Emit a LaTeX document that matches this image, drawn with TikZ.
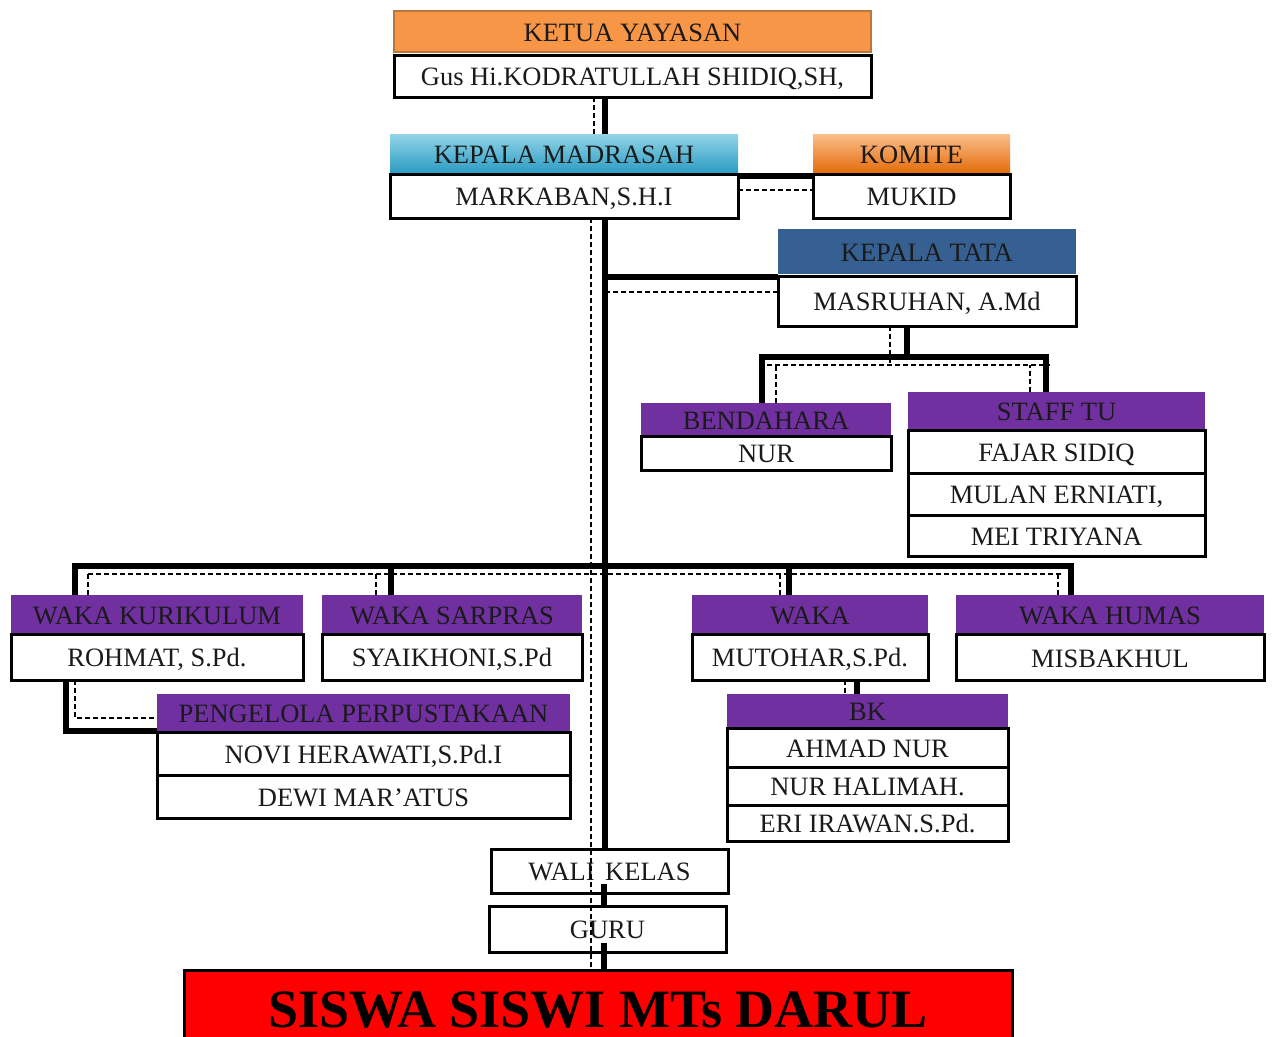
\documentclass[tikz,border=0pt]{standalone}
\usepackage{fontspec}
\setmainfont{Liberation Serif}
\usetikzlibrary{calc}
\definecolor{orgA}{HTML}{F79646}
\definecolor{orgB}{HTML}{B9763F}
\definecolor{cyanT}{HTML}{92D4E8}
\definecolor{cyanB}{HTML}{2C9CC2}
\definecolor{komT}{HTML}{FBBE8C}
\definecolor{komB}{HTML}{E46C0A}
\definecolor{tataC}{HTML}{376092}
\definecolor{purp}{HTML}{7030A0}
\definecolor{redC}{HTML}{FF0000}
\definecolor{txt}{HTML}{1A1A1A}
\pgfdeclarelayer{bg}
\pgfsetlayers{bg,main}
\tikzset{
  box/.style={rectangle, inner sep=0pt, outer sep=0pt, font=\fontsize{26.5}{30}\selectfont, text=txt, text height=20pt, text depth=0.5pt},
  hdr/.style={box, draw=none},
  phdr/.style={hdr, fill=purp},
  nm/.style={box, draw=black, line width=3pt, fill=white},
  thk/.style={line width=6pt, draw=black},
  dsh/.style={line width=1.2pt, draw=black, dash pattern=on 5pt off 3pt},
}
\begin{document}
\begin{tikzpicture}[x=1pt,y=-1pt]
\useasboundingbox (0,0) rectangle (1273,1036);
\clip (0,0) rectangle (1273,1036);

% ---- boxes ----
\node[hdr, fill=orgA, draw=orgB, line width=2pt, minimum width=477pt, minimum height=41pt] (ketuaH) at (632.5,31.5) {KETUA YAYASAN};
\node[nm, minimum width=477pt, minimum height=42pt] (ketuaN) at (632.5,76) {Gus Hi.KODRATULLAH SHIDIQ,SH,};

\node[hdr, top color=cyanT, bottom color=cyanB, minimum width=348pt, minimum height=39pt] (madH) at (564,153.5) {KEPALA MADRASAH};
\node[nm, minimum width=348pt, minimum height=44pt] (madN) at (564,196) {MARKABAN,S.H.I};

\node[hdr, top color=komT, bottom color=komB, minimum width=197pt, minimum height=39pt] (komH) at (911.5,153.5) {KOMITE};
\node[nm, minimum width=197pt, minimum height=44pt] (komN) at (911.5,196) {MUKID};

\node[hdr, fill=tataC, minimum width=298pt, minimum height=45pt] (tataH) at (927,251.5) {KEPALA TATA};
\node[nm, minimum width=298pt, minimum height=50pt] (tataN) at (927,301) {MASRUHAN, A.Md};

\node[phdr, minimum width=250pt, minimum height=33pt] (bendH) at (766,419.5) {BENDAHARA};
\node[nm, minimum width=250pt, minimum height=34pt] (bendN) at (766,453) {NUR};

\node[phdr, minimum width=297pt, minimum height=38pt] (staffH) at (1056.5,411) {STAFF TU};
\node[nm, minimum width=297pt, minimum height=43pt] (staffA) at (1056.5,451.5) {FAJAR SIDIQ};
\node[nm, minimum width=297pt, minimum height=42pt] (staffB) at (1056.5,494) {MULAN ERNIATI,};
\node[nm, minimum width=297pt, minimum height=41pt] (staffC) at (1056.5,535.5) {MEI TRIYANA};

\node[phdr, minimum width=292pt, minimum height=39pt] (wkH) at (157,614.5) {WAKA KURIKULUM};
\node[nm, minimum width=292pt, minimum height=46pt] (wkN) at (157,657) {ROHMAT, S.Pd.};

\node[phdr, minimum width=260pt, minimum height=39pt] (wsH) at (452,614.5) {WAKA SARPRAS};
\node[nm, minimum width=260pt, minimum height=46pt] (wsN) at (452,657) {SYAIKHONI,S.Pd};

\node[phdr, minimum width=236pt, minimum height=39pt] (wH) at (810,614.5) {WAKA};
\node[nm, minimum width=236pt, minimum height=46pt] (wN) at (810,657) {MUTOHAR,S.Pd.};

\node[phdr, minimum width=308pt, minimum height=39pt] (whH) at (1110,614.5) {WAKA HUMAS};
\node[nm, minimum width=308pt, minimum height=46pt] (whN) at (1110,657.5) {MISBAKHUL};

\node[phdr, minimum width=413pt, minimum height=38pt] (pgH) at (363.5,713) {PENGELOLA PERPUSTAKAAN};
\node[nm, minimum width=413pt, minimum height=43pt] (pgA) at (363.5,753.5) {NOVI HERAWATI,S.Pd.I};
\node[nm, minimum width=413pt, minimum height=43pt] (pgB) at (363.5,796.5) {DEWI MAR’ATUS};

\node[phdr, minimum width=281pt, minimum height=34pt] (bkH) at (867.5,711) {BK};
\node[nm, minimum width=281pt, minimum height=39pt] (bkA) at (867.5,747.5) {AHMAD NUR};
\node[nm, minimum width=281pt, minimum height=38pt] (bkB) at (867.5,786) {NUR HALIMAH.};
\node[nm, minimum width=281pt, minimum height=36pt] (bkC) at (867.5,823) {ERI IRAWAN.S.Pd.};

\node[nm, minimum width=237pt, minimum height=44pt] (wali) at (609.5,871) {WALI\hspace{0.15em} KELAS};
\node[nm, minimum width=237pt, minimum height=46pt] (guru) at (607.5,929) {GURU};

\node[nm, fill=redC, minimum width=828pt, minimum height=90pt] (siswa) at (598,1015) {};
\node[box, text=black, font=\fontsize{54}{60}\selectfont\bfseries, text height=38pt, text depth=0pt] (siswaT) at (598,1008) {SISWA SISWI MTs DARUL};

% ---- helper coordinates ----
\coordinate (sx) at (605,0);
\coordinate (dxa) at (594,0);
\coordinate (dxb) at (591,0);
\coordinate (ya) at (0,176);
\coordinate (yb) at (0,190);
\coordinate (yc) at (0,277);
\coordinate (yd) at (0,292);
\coordinate (tx) at (907,0);
\coordinate (ye) at (0,357);
\coordinate (bx) at (762,0);
\coordinate (stx) at (1046,0);
\coordinate (tdx) at (890,0);
\coordinate (yf) at (0,365);
\coordinate (bdl) at (767,0);
\coordinate (bdr) at (1050,0);
\coordinate (bdx) at (776,0);
\coordinate (sdx) at (1030,0);
\coordinate (yg) at (0,566);
\coordinate (yh) at (0,574);
\coordinate (k1) at (75,0);
\coordinate (k2) at (391,0);
\coordinate (k3) at (789,0);
\coordinate (k4) at (1071,0);
\coordinate (d1) at (88,0);
\coordinate (d2) at (376,0);
\coordinate (d3) at (780,0);
\coordinate (d4) at (1058,0);
\coordinate (d5) at (1061,0);
\coordinate (p1) at (66,0);
\coordinate (p2) at (75,0);
\coordinate (yi) at (0,731);
\coordinate (yj) at (0,718);
\coordinate (b1) at (857,0);
\coordinate (b2) at (845,0);
\coordinate (gx) at (604,0);

% ---- connectors ----
\begin{pgfonlayer}{bg}
\fill[white] (0,0) rectangle (1273,1036);
\draw[thk] (ketuaN.south -| sx) -- (madH.north -| sx);
\draw[dsh] (ketuaN.south -| dxa) -- (madH.north -| dxa);
\draw[thk] (madN.south -| sx) -- (wali.north -| sx);
\draw[thk] (madN.east |- ya) -- (komN.west |- ya);
\draw[dsh] (madN.east |- yb) -- (komN.west |- yb);
\draw[thk] (sx |- yc) -- (tataN.west |- yc);
\draw[dsh] (sx |- yd) -- (tataN.west |- yd);
\draw[thk] (tataN.south -| tx) -- (tx |- ye);
\draw[thk, line join=miter] (bendH.north -| bx) -- (bx |- ye) -- (stx |- ye) -- (staffH.north -| stx);
\draw[dsh] (tataN.south -| tdx) -- (tdx |- yf);
\draw[dsh] (bdl |- yf) -- (bdr |- yf);
\draw[dsh] (bendH.north -| bdx) -- (bdx |- yf);
\draw[dsh] (staffH.north -| sdx) -- (sdx |- yf);
\draw[thk, line join=miter] (wkH.north -| k1) -- (k1 |- yg) -- (k4 |- yg) -- (whH.north -| k4);
\draw[thk] (k2 |- yg) -- (wsH.north -| k2);
\draw[thk] (k3 |- yg) -- (wH.north -| k3);
\draw[dsh] (d1 |- yh) -- (d5 |- yh);
\draw[dsh] (d1 |- yh) -- (wkH.north -| d1);
\draw[dsh] (d2 |- yh) -- (wsH.north -| d2);
\draw[dsh] (d3 |- yh) -- (wH.north -| d3);
\draw[dsh] (d4 |- yh) -- (whH.north -| d4);
\draw[thk, line join=miter] (wkN.south -| p1) -- (p1 |- yi) -- (pgH.west |- yi);
\draw[dsh] (wkN.south -| p2) -- (p2 |- yj) -- (pgH.west |- yj);
\draw[thk] (wN.south -| b1) -- (bkH.north -| b1);
\draw[dsh] (wN.south -| b2) -- (bkH.north -| b2);
\draw[thk] (wali.south -| gx) -- (guru.north -| gx);
\draw[thk] (guru.south -| gx) -- (siswa.north -| gx);
\end{pgfonlayer}

\draw[dsh] (madN.south -| dxb) -- (siswa.north -| dxb);
\draw[thk] (wali.south -| gx) -- ++(0,-9);
\draw[thk] (guru.south -| gx) -- ++(0,-9);
\end{tikzpicture}
\end{document}
